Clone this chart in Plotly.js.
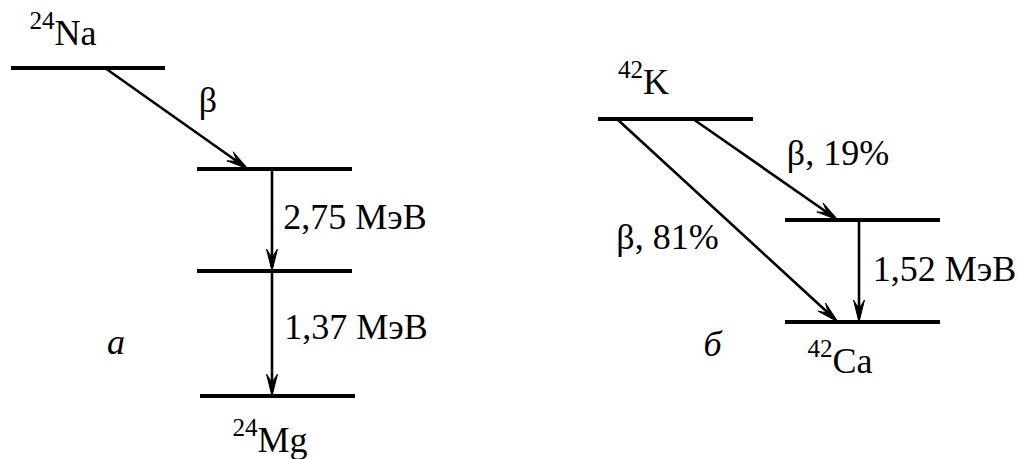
<!DOCTYPE html>
<html>
<head>
<meta charset="utf-8">
<script src="https://cdn.plot.ly/plotly-3.0.1.min.js"></script>
</head>
<body style="margin:0">
<div id="chart"></div>
<script>
// Energy levels (diagram units = pixels of the scheme)
const levelX0 = [11, 197, 197, 200, 598, 785, 785];
const levelX1 = [165, 352, 352, 355, 753, 940, 940];
const levelY  = [68, 169, 271, 396, 119, 220, 322];

// Transitions (tail -> head)
const transFromX = [105, 272, 272, 693, 617, 859];
const transFromY = [68, 169, 271, 119, 119, 220];
const transToX   = [248, 272, 272, 838, 838, 859];
const transToY   = [169, 271, 396, 220, 322, 322];

// Labels
const labelText = ['<sup>24</sup>Na', 'β', '2,75 МэВ', '1,37 МэВ', '<i>а</i>', '<sup>24</sup>Mg',
                   '<sup>42</sup>K', 'β, 19%', 'β, 81%', '1,52 МэВ', '<i>б</i>', '<sup>42</sup>Ca'];
const labelX = [63, 208, 355, 356, 116, 270, 643.5, 838, 667.5, 944.5, 712.5, 840];
const labelY = [35.5, 103, 220, 330, 345, 442.5, 84.5, 156, 240, 271.5, 347, 363.5];

const traces = [];
const lx = [], ly = [];
for (let i = 0; i < levelY.length; i++) {
  lx.push(levelX0[i], levelX1[i], null);
  ly.push(levelY[i], levelY[i], null);
}
const sx = [], sy = [];
const heads = [];
for (let i = 0; i < transToX.length; i++) {
  const fx = transFromX[i], fy = transFromY[i], tx = transToX[i], ty = transToY[i];
  const len = Math.hypot(tx - fx, ty - fy);
  const ux = (tx - fx) / len, uy = (ty - fy) / len;
  const px = -uy, py = ux;
  const L = 22, W = 5.5, M = 0.6 * L;
  sx.push(fx, tx - ux * 4, null);
  sy.push(fy, ty - uy * 4, null);
  heads.push({
    x: [tx - L * ux + W * px, tx, tx - L * ux - W * px, tx - M * ux, tx - L * ux + W * px],
    y: [ty - L * uy + W * py, ty, ty - L * uy - W * py, ty - M * uy, ty - L * uy + W * py],
    mode: 'lines', fill: 'toself', fillcolor: '#000',
    line: {color: '#000', width: 1}, showlegend: false, hoverinfo: 'skip'
  });
}
traces.push({x: sx, y: sy, mode: 'lines', line: {color: '#000', width: 2.6}, showlegend: false, hoverinfo: 'skip'});
traces.push({x: lx, y: ly, mode: 'lines', line: {color: '#000', width: 4}, showlegend: false, hoverinfo: 'skip'});
heads.forEach(h => traces.push(h));
traces.push({
  x: labelX, y: labelY, text: labelText, mode: 'text', textposition: 'middle center',
  textfont: {family: 'Liberation Serif', size: 36, color: '#000'},
  showlegend: false, hoverinfo: 'skip', cliponaxis: false
});

const layout = {
  width: 1019, height: 459,
  margin: {l: 0, r: 0, t: 0, b: 0},
  font: {family: 'Liberation Serif'},
  xaxis: {range: [0, 1019], visible: false},
  yaxis: {range: [459, 0], visible: false},
  showlegend: false
};

Plotly.newPlot('chart', traces, layout, {displayModeBar: false});
</script>
</body>
</html>
